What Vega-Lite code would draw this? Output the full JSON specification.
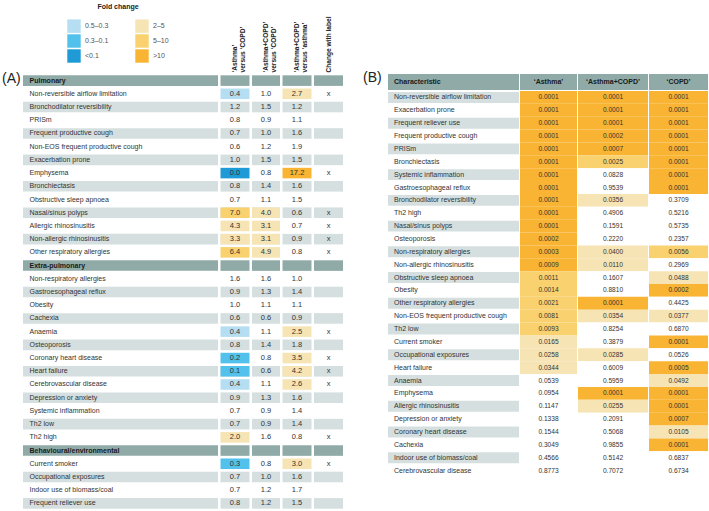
{
  "$schema": "https://vega.github.io/schema/vega-lite/v6.json",
  "background": "#ffffff",
  "padding": {"left": 2, "top": 3, "right": 0, "bottom": 0},
  "config": {"font": "Liberation Sans", "view": {"stroke": null}},
  "datasets": {
    "A": [
      {"r": "Pulmonary", "h": true, "v1": "", "v2": "", "v3": "", "v4": ""},
      {"r": "Non-reversible airflow limitation", "v1": "0.4", "v2": "1.0", "v3": "2.7", "v4": "x", "f1": "0.5–0.3", "f3": "2–5"},
      {"r": "Bronchodilator reversibility", "v1": "1.2", "v2": "1.5", "v3": "1.2", "v4": ""},
      {"r": "PRISm", "v1": "0.8", "v2": "0.9", "v3": "1.1", "v4": ""},
      {"r": "Frequent productive cough", "v1": "0.7", "v2": "1.0", "v3": "1.6", "v4": ""},
      {"r": "Non-EOS frequent productive cough", "v1": "0.6", "v2": "1.2", "v3": "1.9", "v4": ""},
      {"r": "Exacerbation prone", "v1": "1.0", "v2": "1.5", "v3": "1.5", "v4": ""},
      {"r": "Emphysema", "v1": "0.0", "v2": "0.8", "v3": "17.2", "v4": "x", "f1": "<0.1", "f3": ">10"},
      {"r": "Bronchiectasis", "v1": "0.8", "v2": "1.4", "v3": "1.6", "v4": ""},
      {"r": "Obstructive sleep apnoea", "v1": "0.7", "v2": "1.1", "v3": "1.5", "v4": ""},
      {"r": "Nasal/sinus polyps", "v1": "7.0", "v2": "4.0", "v3": "0.6", "v4": "x", "f1": "5–10", "f2": "2–5"},
      {"r": "Allergic rhinosinusitis", "v1": "4.3", "v2": "3.1", "v3": "0.7", "v4": "x", "f1": "2–5", "f2": "2–5"},
      {"r": "Non-allergic rhinosinusitis", "v1": "3.3", "v2": "3.1", "v3": "0.9", "v4": "x", "f1": "2–5", "f2": "2–5"},
      {"r": "Other respiratory allergies", "v1": "6.4", "v2": "4.9", "v3": "0.8", "v4": "x", "f1": "5–10", "f2": "2–5"},
      {"r": "Extra-pulmonary", "h": true, "v1": "", "v2": "", "v3": "", "v4": ""},
      {"r": "Non-respiratory allergies", "v1": "1.6", "v2": "1.6", "v3": "1.0", "v4": ""},
      {"r": "Gastroesophageal reflux", "v1": "0.9", "v2": "1.3", "v3": "1.4", "v4": ""},
      {"r": "Obesity", "v1": "1.0", "v2": "1.1", "v3": "1.1", "v4": ""},
      {"r": "Cachexia", "v1": "0.6", "v2": "0.6", "v3": "0.9", "v4": ""},
      {"r": "Anaemia", "v1": "0.4", "v2": "1.1", "v3": "2.5", "v4": "x", "f1": "0.5–0.3", "f3": "2–5"},
      {"r": "Osteoporosis", "v1": "0.8", "v2": "1.4", "v3": "1.8", "v4": ""},
      {"r": "Coronary heart disease", "v1": "0.2", "v2": "0.8", "v3": "3.5", "v4": "x", "f1": "0.3–0.1", "f3": "2–5"},
      {"r": "Heart failure", "v1": "0.1", "v2": "0.6", "v3": "4.2", "v4": "x", "f1": "0.3–0.1", "f3": "2–5"},
      {"r": "Cerebrovascular disease", "v1": "0.4", "v2": "1.1", "v3": "2.6", "v4": "x", "f1": "0.5–0.3", "f3": "2–5"},
      {"r": "Depression or anxiety", "v1": "0.9", "v2": "1.3", "v3": "1.6", "v4": ""},
      {"r": "Systemic inflammation", "v1": "0.7", "v2": "0.9", "v3": "1.4", "v4": ""},
      {"r": "Th2 low", "v1": "0.7", "v2": "0.9", "v3": "1.4", "v4": ""},
      {"r": "Th2 high", "v1": "2.0", "v2": "1.6", "v3": "0.8", "v4": "x", "f1": "2–5"},
      {"r": "Behavioural/environmental", "h": true, "v1": "", "v2": "", "v3": "", "v4": ""},
      {"r": "Current smoker", "v1": "0.3", "v2": "0.8", "v3": "3.0", "v4": "x", "f1": "0.3–0.1", "f3": "2–5"},
      {"r": "Occupational exposures", "v1": "0.7", "v2": "1.0", "v3": "1.6", "v4": ""},
      {"r": "Indoor use of biomass/coal", "v1": "0.7", "v2": "1.2", "v3": "1.7", "v4": ""},
      {"r": "Frequent reliever use", "v1": "0.8", "v2": "1.2", "v3": "1.5", "v4": ""}
    ],
    "B": [
      {"c": "Non-reversible airflow limitation", "a": 0.0001, "ac": 0.0001, "co": 0.0001},
      {"c": "Exacerbation prone", "a": 0.0001, "ac": 0.0001, "co": 0.0001},
      {"c": "Frequent reliever use", "a": 0.0001, "ac": 0.0001, "co": 0.0001},
      {"c": "Frequent productive cough", "a": 0.0001, "ac": 0.0002, "co": 0.0001},
      {"c": "PRISm", "a": 0.0001, "ac": 0.0007, "co": 0.0001},
      {"c": "Bronchiectasis", "a": 0.0001, "ac": 0.0025, "co": 0.0001},
      {"c": "Systemic inflammation", "a": 0.0001, "ac": 0.0828, "co": 0.0001},
      {"c": "Gastroesophageal reflux", "a": 0.0001, "ac": 0.9539, "co": 0.0001},
      {"c": "Bronchodilator reversibility", "a": 0.0001, "ac": 0.0356, "co": 0.3709},
      {"c": "Th2 high", "a": 0.0001, "ac": 0.4906, "co": 0.5216},
      {"c": "Nasal/sinus polyps", "a": 0.0001, "ac": 0.1591, "co": 0.5735},
      {"c": "Osteoporosis", "a": 0.0002, "ac": 0.2220, "co": 0.2357},
      {"c": "Non-respiratory allergies", "a": 0.0003, "ac": 0.0400, "co": 0.0056},
      {"c": "Non-allergic rhinosinusitis", "a": 0.0009, "ac": 0.0110, "co": 0.2969},
      {"c": "Obstructive sleep apnoea", "a": 0.0011, "ac": 0.1607, "co": 0.0488},
      {"c": "Obesity", "a": 0.0014, "ac": 0.8810, "co": 0.0002},
      {"c": "Other respiratory allergies", "a": 0.0021, "ac": 0.0001, "co": 0.4425},
      {"c": "Non-EOS frequent productive cough", "a": 0.0081, "ac": 0.0354, "co": 0.0377},
      {"c": "Th2 low", "a": 0.0093, "ac": 0.8254, "co": 0.6870},
      {"c": "Current smoker", "a": 0.0165, "ac": 0.3879, "co": 0.0001},
      {"c": "Occupational exposures", "a": 0.0258, "ac": 0.0285, "co": 0.0526},
      {"c": "Heart failure", "a": 0.0344, "ac": 0.6009, "co": 0.0005},
      {"c": "Anaemia", "a": 0.0539, "ac": 0.5959, "co": 0.0492},
      {"c": "Emphysema", "a": 0.0954, "ac": 0.0001, "co": 0.0001},
      {"c": "Allergic rhinosinusitis", "a": 0.1147, "ac": 0.0255, "co": 0.0001},
      {"c": "Depression or anxiety", "a": 0.1338, "ac": 0.2091, "co": 0.0007},
      {"c": "Coronary heart disease", "a": 0.1544, "ac": 0.5068, "co": 0.0105},
      {"c": "Cachexia", "a": 0.3049, "ac": 0.9855, "co": 0.0001},
      {"c": "Indoor use of biomass/coal", "a": 0.4566, "ac": 0.5142, "co": 0.6837},
      {"c": "Cerebrovascular disease", "a": 0.8773, "ac": 0.7072, "co": 0.6734}
    ]
  },
  "spacing": 20,
  "resolve": {"scale": {"color": "independent"}, "legend": {"color": "independent"}},
  "hconcat": [
    {
      "spacing": 2.5,
      "resolve": {"scale": {"color": "shared"}, "legend": {"color": "shared"}},
      "hconcat": [
        {
          "width": 195, "height": 436,
          "data": {"name": "A"},
          "transform": [{"window": [{"op": "row_number", "as": "rn"}]}],
          "encoding": {"y": {"field": "r", "type": "nominal", "sort": null, "axis": null, "scale": {"paddingInner": 0.2, "paddingOuter": 0.1}}},
          "layer": [
            {"mark": {"type": "rect"}, "encoding": {"fill": {"condition": [{"test": "datum.h", "value": "#8FAAA7"}, {"test": "datum.rn % 2 == 1", "value": "#D5DFDF"}], "value": "#FFFFFF"}}},
            {"mark": {"type": "text", "align": "left", "dx": 6.5, "fontSize": 7, "color": "#333333"},
             "encoding": {"x": {"datum": 0, "type": "quantitative", "scale": {"domain": [0, 1]}, "axis": null}, "text": {"condition": {"test": "!datum.h", "field": "r"}, "value": ""}}},
            {"mark": {"type": "text", "align": "left", "dx": 6.5, "fontSize": 7, "fontWeight": "bold", "color": "#1a1a1a"},
             "encoding": {"x": {"datum": 0, "type": "quantitative", "scale": {"domain": [0, 1]}, "axis": null}, "text": {"condition": {"test": "datum.h", "field": "r"}, "value": ""}}},
            {"data": {"values": [{"p": "(A)", "r": "Pulmonary"}]},
             "mark": {"type": "text", "align": "left", "dx": -21, "dy": -2, "fontSize": 14, "color": "#222222"},
             "encoding": {"x": {"datum": 0, "type": "quantitative", "scale": {"domain": [0, 1]}, "axis": null}, "text": {"field": "p"}}}
          ]
        },
        {
          "width": 29, "height": 436,
          "data": {"name": "A"},
          "transform": [{"window": [{"op": "row_number", "as": "rn"}]}],
          "encoding": {
            "y": {"field": "r", "type": "nominal", "sort": null, "axis": null, "scale": {"paddingInner": 0.2, "paddingOuter": 0.1}},
            "x": {"datum": "‘Asthma’|versus ‘COPD’", "type": "nominal", "scale": {"paddingInner": 0, "paddingOuter": 0},
                  "axis": {"orient": "top", "title": null, "domain": false, "ticks": false, "labelAngle": -90, "labelAlign": "left", "labelBaseline": "middle", "labelPadding": 2, "labelFontSize": 6.6, "labelFontWeight": "bold", "labelColor": "#222222", "labelLineHeight": 7.5, "labelLimit": 0, "labelExpr": "split(datum.value, '|')"}}
          },
          "layer": [
            {"mark": {"type": "rect"}, "encoding": {"fill": {"condition": [{"test": "datum.h", "value": "#8FAAA7"}, {"test": "datum.rn % 2 == 1", "value": "#D5DFDF"}], "value": "#FFFFFF"}}},
            {"mark": {"type": "rect"}, "encoding": {"fill": {"field": "f1", "type": "nominal",
              "condition": {"test": "!datum.f1", "value": "transparent"},
              "scale": {"domain": ["0.5–0.3", "0.3–0.1", "<0.1", "2–5", "5–10", ">10"], "range": ["#B5DEF2", "#52C2EC", "#1E9BD7", "#F7E4B4", "#F9D26F", "#F8B432"]},
              "legend": {"title": "Fold change", "orient": "none", "legendX": 44, "legendY": -71, "columns": 2, "symbolType": "square", "symbolSize": 180, "symbolStrokeWidth": 0, "labelFontSize": 7, "labelColor": "#555555", "labelOffset": 4, "titleFontSize": 7, "titleColor": "#222222", "titleAnchor": "middle", "titlePadding": 9, "rowPadding": 1, "columnPadding": 26, "padding": 0}}}},
            {"mark": {"type": "text", "fontSize": 7.5, "color": "#333333"}, "encoding": {"text": {"field": "v1"}}}
          ]
        },
        {
          "width": 28, "height": 436,
          "data": {"name": "A"},
          "transform": [{"window": [{"op": "row_number", "as": "rn"}]}],
          "encoding": {
            "y": {"field": "r", "type": "nominal", "sort": null, "axis": null, "scale": {"paddingInner": 0.2, "paddingOuter": 0.1}},
            "x": {"datum": "‘Asthma+COPD’|versus ‘COPD’", "type": "nominal", "scale": {"paddingInner": 0, "paddingOuter": 0},
                  "axis": {"orient": "top", "title": null, "domain": false, "ticks": false, "labelAngle": -90, "labelAlign": "left", "labelBaseline": "middle", "labelPadding": 2, "labelFontSize": 6.6, "labelFontWeight": "bold", "labelColor": "#222222", "labelLineHeight": 7.5, "labelLimit": 0, "labelExpr": "split(datum.value, '|')"}}
          },
          "layer": [
            {"mark": {"type": "rect"}, "encoding": {"fill": {"condition": [{"test": "datum.h", "value": "#8FAAA7"}, {"test": "datum.rn % 2 == 1", "value": "#D5DFDF"}], "value": "#FFFFFF"}}},
            {"mark": {"type": "rect"}, "encoding": {"fill": {"field": "f2", "type": "nominal",
              "condition": {"test": "!datum.f2", "value": "transparent"},
              "scale": {"domain": ["0.5–0.3", "0.3–0.1", "<0.1", "2–5", "5–10", ">10"], "range": ["#B5DEF2", "#52C2EC", "#1E9BD7", "#F7E4B4", "#F9D26F", "#F8B432"]},
              "legend": {"title": "Fold change", "orient": "none", "legendX": 44, "legendY": -71, "columns": 2, "symbolType": "square", "symbolSize": 180, "symbolStrokeWidth": 0, "labelFontSize": 7, "labelColor": "#555555", "labelOffset": 4, "titleFontSize": 7, "titleColor": "#222222", "titleAnchor": "middle", "titlePadding": 9, "rowPadding": 1, "columnPadding": 26, "padding": 0}}}},
            {"mark": {"type": "text", "fontSize": 7.5, "color": "#333333"}, "encoding": {"text": {"field": "v2"}}}
          ]
        },
        {
          "width": 29, "height": 436,
          "data": {"name": "A"},
          "transform": [{"window": [{"op": "row_number", "as": "rn"}]}],
          "encoding": {
            "y": {"field": "r", "type": "nominal", "sort": null, "axis": null, "scale": {"paddingInner": 0.2, "paddingOuter": 0.1}},
            "x": {"datum": "‘Asthma+COPD’|versus ‘asthma’", "type": "nominal", "scale": {"paddingInner": 0, "paddingOuter": 0},
                  "axis": {"orient": "top", "title": null, "domain": false, "ticks": false, "labelAngle": -90, "labelAlign": "left", "labelBaseline": "middle", "labelPadding": 2, "labelFontSize": 6.6, "labelFontWeight": "bold", "labelColor": "#222222", "labelLineHeight": 7.5, "labelLimit": 0, "labelExpr": "split(datum.value, '|')"}}
          },
          "layer": [
            {"mark": {"type": "rect"}, "encoding": {"fill": {"condition": [{"test": "datum.h", "value": "#8FAAA7"}, {"test": "datum.rn % 2 == 1", "value": "#D5DFDF"}], "value": "#FFFFFF"}}},
            {"mark": {"type": "rect"}, "encoding": {"fill": {"field": "f3", "type": "nominal",
              "condition": {"test": "!datum.f3", "value": "transparent"},
              "scale": {"domain": ["0.5–0.3", "0.3–0.1", "<0.1", "2–5", "5–10", ">10"], "range": ["#B5DEF2", "#52C2EC", "#1E9BD7", "#F7E4B4", "#F9D26F", "#F8B432"]},
              "legend": {"title": "Fold change", "orient": "none", "legendX": 44, "legendY": -71, "columns": 2, "symbolType": "square", "symbolSize": 180, "symbolStrokeWidth": 0, "labelFontSize": 7, "labelColor": "#555555", "labelOffset": 4, "titleFontSize": 7, "titleColor": "#222222", "titleAnchor": "middle", "titlePadding": 9, "rowPadding": 1, "columnPadding": 26, "padding": 0}}}},
            {"mark": {"type": "text", "fontSize": 7.5, "color": "#333333"}, "encoding": {"text": {"field": "v3"}}}
          ]
        },
        {
          "width": 29, "height": 436,
          "data": {"name": "A"},
          "transform": [{"window": [{"op": "row_number", "as": "rn"}]}],
          "encoding": {
            "y": {"field": "r", "type": "nominal", "sort": null, "axis": null, "scale": {"paddingInner": 0.2, "paddingOuter": 0.1}},
            "x": {"datum": "Change with label", "type": "nominal", "scale": {"paddingInner": 0, "paddingOuter": 0},
                  "axis": {"orient": "top", "title": null, "domain": false, "ticks": false, "labelAngle": -90, "labelAlign": "left", "labelBaseline": "middle", "labelPadding": 2, "labelFontSize": 6.6, "labelFontWeight": "bold", "labelColor": "#222222", "labelLineHeight": 7.5, "labelLimit": 0, "labelExpr": "split(datum.value, '|')"}}
          },
          "layer": [
            {"mark": {"type": "rect"}, "encoding": {"fill": {"condition": [{"test": "datum.h", "value": "#8FAAA7"}, {"test": "datum.rn % 2 == 1", "value": "#D5DFDF"}], "value": "#FFFFFF"}}},
            {"mark": {"type": "text", "fontSize": 7.5, "color": "#333333"}, "encoding": {"text": {"field": "v4"}}}
          ]
        }
      ]
    },
    {
      "spacing": 1,
      "resolve": {"scale": {"color": "independent"}, "legend": {"color": "independent"}},
      "vconcat": [
        {
          "spacing": 1,
          "hconcat": [
            {
              "width": 131, "height": 16,
              "data": {"values": [{"h": "Characteristic"}]},
              "layer": [
                {"mark": {"type": "rect", "color": "#8FAAA7"}, "encoding": {}},
                {"mark": {"type": "text", "align": "left", "dx": 6, "fontSize": 7, "fontWeight": "bold", "color": "#1a1a1a"},
                 "encoding": {"x": {"datum": 0, "type": "quantitative", "scale": {"domain": [0, 1]}, "axis": null}, "text": {"field": "h"}}},
                {"data": {"values": [{"p": "(B)"}]},
                 "mark": {"type": "text", "align": "left", "dx": -25, "dy": -4, "fontSize": 14, "color": "#222222"},
                 "encoding": {"x": {"datum": 0, "type": "quantitative", "scale": {"domain": [0, 1]}, "axis": null}, "text": {"field": "p"}}}
              ]
            },
            {
              "width": 57, "height": 16,
              "data": {"values": [{"h": "‘Asthma’"}]},
              "layer": [
                {"mark": {"type": "rect", "color": "#8FAAA7"}, "encoding": {}},
                {"mark": {"type": "text", "fontSize": 7, "fontWeight": "bold", "color": "#1a1a1a"}, "encoding": {"text": {"field": "h"}}}
              ]
            },
            {
              "width": 70, "height": 16,
              "data": {"values": [{"h": "‘Asthma+COPD’"}]},
              "layer": [
                {"mark": {"type": "rect", "color": "#8FAAA7"}, "encoding": {}},
                {"mark": {"type": "text", "fontSize": 7, "fontWeight": "bold", "color": "#1a1a1a"}, "encoding": {"text": {"field": "h"}}}
              ]
            },
            {
              "width": 59, "height": 16,
              "data": {"values": [{"h": "‘COPD’"}]},
              "layer": [
                {"mark": {"type": "rect", "color": "#8FAAA7"}, "encoding": {}},
                {"mark": {"type": "text", "fontSize": 7, "fontWeight": "bold", "color": "#1a1a1a"}, "encoding": {"text": {"field": "h"}}}
              ]
            }
          ]
        },
        {
          "spacing": 1,
          "hconcat": [
            {
              "width": 131, "height": 386,
              "data": {"name": "B"},
              "transform": [{"window": [{"op": "row_number", "as": "rn"}]}],
              "encoding": {"y": {"field": "c", "type": "nominal", "sort": null, "axis": null, "scale": {"paddingInner": 0.15, "paddingOuter": 0.075}}},
              "layer": [
                {"mark": {"type": "rect"}, "encoding": {"fill": {"condition": {"test": "datum.rn % 2 == 1", "value": "#D5DFDF"}, "value": "#FFFFFF"}}},
                {"mark": {"type": "text", "align": "left", "dx": 6, "fontSize": 7, "color": "#333333"},
                 "encoding": {"x": {"datum": 0, "type": "quantitative", "scale": {"domain": [0, 1]}, "axis": null}, "text": {"field": "c"}}}
              ]
            },
            {
              "width": 57, "height": 386,
              "data": {"name": "B"},
              "encoding": {"y": {"field": "c", "type": "nominal", "sort": null, "axis": null, "scale": {"paddingInner": 0, "paddingOuter": 0}}},
              "layer": [
                {"mark": {"type": "rect"}, "encoding": {"fill": {"field": "a", "type": "quantitative", "scale": {"type": "threshold", "domain": [0.001, 0.01, 0.05], "range": ["#F8B432", "#F9D26F", "#F7E4B4", "#FFFFFF"]}, "legend": null}}},
                {"mark": {"type": "text", "fontSize": 6.6, "color": "#333333"}, "encoding": {"text": {"field": "a", "type": "quantitative", "format": ".4f"}}}
              ]
            },
            {
              "width": 70, "height": 386,
              "data": {"name": "B"},
              "encoding": {"y": {"field": "c", "type": "nominal", "sort": null, "axis": null, "scale": {"paddingInner": 0, "paddingOuter": 0}}},
              "layer": [
                {"mark": {"type": "rect"}, "encoding": {"fill": {"field": "ac", "type": "quantitative", "scale": {"type": "threshold", "domain": [0.001, 0.01, 0.05], "range": ["#F8B432", "#F9D26F", "#F7E4B4", "#FFFFFF"]}, "legend": null}}},
                {"mark": {"type": "text", "fontSize": 6.6, "color": "#333333"}, "encoding": {"text": {"field": "ac", "type": "quantitative", "format": ".4f"}}}
              ]
            },
            {
              "width": 59, "height": 386,
              "data": {"name": "B"},
              "encoding": {"y": {"field": "c", "type": "nominal", "sort": null, "axis": null, "scale": {"paddingInner": 0, "paddingOuter": 0}}},
              "layer": [
                {"mark": {"type": "rect"}, "encoding": {"fill": {"field": "co", "type": "quantitative", "scale": {"type": "threshold", "domain": [0.001, 0.01, 0.05], "range": ["#F8B432", "#F9D26F", "#F7E4B4", "#FFFFFF"]}, "legend": null}}},
                {"mark": {"type": "text", "fontSize": 6.6, "color": "#333333"}, "encoding": {"text": {"field": "co", "type": "quantitative", "format": ".4f"}}}
              ]
            }
          ]
        }
      ]
    }
  ]
}
